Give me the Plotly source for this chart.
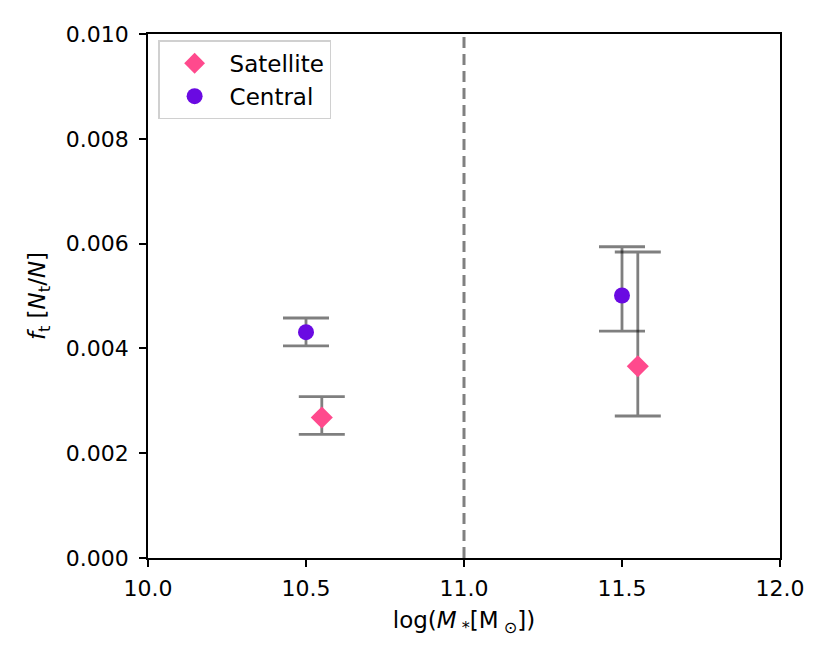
import plotly.graph_objects as go

# Satellite points
sat_x = [10.55, 11.55]
sat_y = [0.00268, 0.00366]
sat_err_plus = [0.00040, 0.00218]
sat_err_minus = [0.00032, 0.00095]

# Central points
cen_x = [10.5, 11.5]
cen_y = [0.00431, 0.00501]
cen_err_plus = [0.00027, 0.00093]
cen_err_minus = [0.00026, 0.00068]

split_mass = 11.0

x_ticks = [10.0, 10.5, 11.0, 11.5, 12.0]
y_ticks = [0.000, 0.002, 0.004, 0.006, 0.008, 0.010]

FONT = "DejaVu Sans"
ERR = dict(type="data", symmetric=False, color="rgba(0,0,0,0.5)",
           thickness=2.8, width=23)

fig = go.Figure()

fig.add_trace(go.Scatter(
    x=sat_x, y=sat_y, mode="markers", name="Satellite",
    marker=dict(symbol="diamond", size=17, color="#FF4A8D"),
    error_y=dict(array=sat_err_plus, arrayminus=sat_err_minus, **ERR),
))
fig.add_trace(go.Scatter(
    x=cen_x, y=cen_y, mode="markers", name="Central",
    marker=dict(symbol="circle", size=16, color="#6A0AE2"),
    error_y=dict(array=cen_err_plus, arrayminus=cen_err_minus, **ERR),
))

# vertical dashed line at the mass split
fig.add_shape(type="line", x0=split_mass, x1=split_mass, y0=0, y1=1,
              xref="x", yref="paper",
              line=dict(color="gray", width=3, dash="11px,6px"))

axis_common = dict(
    showline=True, linecolor="black", linewidth=1.5, mirror=True,
    ticks="outside", ticklen=7, tickwidth=1.5, tickcolor="black",
    showgrid=False, zeroline=False,
    tickfont=dict(family=FONT, size=22, color="black"),
)

fig.update_layout(
    width=830, height=664,
    plot_bgcolor="white", paper_bgcolor="white",
    margin=dict(l=140, r=58, t=26, b=114),
    font=dict(family=FONT, size=22, color="black"),
    showlegend=True,
    legend=dict(
        x=0.016, y=0.988, xanchor="left", yanchor="top",
        bordercolor="#d0d0d0", borderwidth=1.5, bgcolor="white",
        font=dict(family=FONT, size=23),
        itemwidth=60,
    ),
    xaxis=dict(
        range=[10.0, 12.0], tickvals=x_ticks, tickformat=".1f",
        ticklabelstandoff=3,
        title=dict(text="log(<i>M</i><sub> *</sub>[M<sub> ⊙</sub>])",
                   font=dict(family=FONT, size=23), standoff=12),
        **axis_common,
    ),
    yaxis=dict(
        range=[0.0, 0.010], tickvals=y_ticks, tickformat=".3f",
        ticklabelstandoff=6,
        title=dict(text="<i>f</i><sub>t</sub> [<i>N</i><sub>t</sub>/<i>N</i>]",
                   font=dict(family=FONT, size=23), standoff=14),
        **axis_common,
    ),
)

fig.write_html("out.html")
